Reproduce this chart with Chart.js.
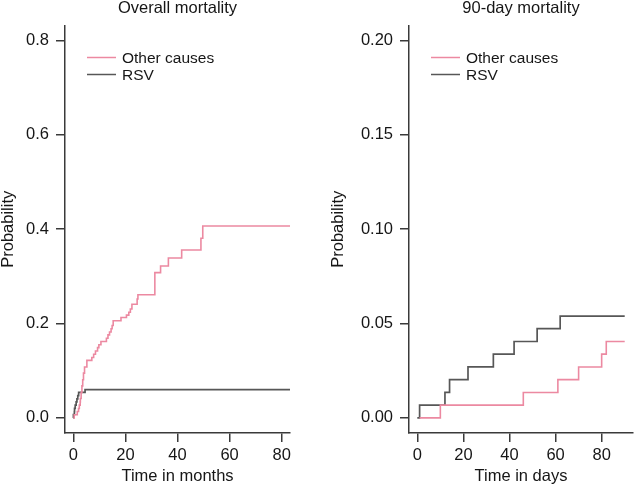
<!DOCTYPE html>
<html>
<head>
<meta charset="utf-8">
<title>Mortality</title>
<script src="https://cdn.jsdelivr.net/npm/chart.js@4.4.1/dist/chart.umd.min.js"></script>
<style>
      html, body { margin: 0; padding: 0; background: #ffffff; }
      #wrap { position: relative; width: 636px; height: 487px; }
      .panel { position: absolute; top: 0; width: 318px; height: 487px; }
</style>
</head>
<body>
<div id="wrap">
      <div class="panel" style="left:0"><canvas id="overall_chart" width="318" height="487"></canvas></div>
      <div class="panel" style="left:318px"><canvas id="day_chart" width="318" height="487"></canvas></div>
</div>
<script>
// overall mortality (months)
const overallOtherMonths = [0, 0.33, 1.51, 2.0, 2.3, 2.63, 2.7, 3.0, 3.3, 3.6, 3.9, 4.3, 5.2, 7.1, 7.8, 8.5, 9.3, 9.8, 10.6, 12.7, 13.3, 13.9, 14.5, 14.9, 15.3, 18.3, 20.4, 21.3, 21.9, 22.5, 24.5, 24.8, 31.3, 33.5, 36.5, 41.6, 49.0, 49.7, 84];
const overallOtherProb = [0, 0.0068, 0.0135, 0.020, 0.027, 0.034, 0.041, 0.054, 0.068, 0.081, 0.095, 0.108, 0.122, 0.128, 0.135, 0.142, 0.149, 0.155, 0.162, 0.169, 0.176, 0.182, 0.189, 0.196, 0.206, 0.213, 0.218, 0.224, 0.231, 0.241, 0.252, 0.261, 0.308, 0.322, 0.339, 0.356, 0.381, 0.407, 0.407];
const overallRsvMonths = [0, 0.03, 0.4, 0.46, 0.72, 1.08, 1.38, 1.71, 2.04, 4.5, 84];
const overallRsvProb = [0, 0.0068, 0.0135, 0.0203, 0.027, 0.0338, 0.0405, 0.0473, 0.054, 0.060, 0.060];

// 90-day mortality (days)
const dayOtherDays = [1, 10, 46, 61, 70, 80, 82, 90];
const dayOtherProb = [0, 0.0068, 0.0135, 0.0203, 0.027, 0.0338, 0.0405, 0.0405];
const dayRsvDays = [0, 1, 12, 14, 22, 33, 42, 52, 62, 90];
const dayRsvProb = [0, 0.0068, 0.0135, 0.0203, 0.027, 0.0338, 0.0405, 0.0473, 0.054, 0.054];

const xTicksMonths = [0, 20, 40, 60, 80];
const xTicksDays = [0, 20, 40, 60, 80];
const yTicksOverall = [0, 0.2, 0.4, 0.6, 0.8];
const yTicksDay = [0, 0.05, 0.10, 0.15, 0.20];

const seriesLabels = ['Other causes', 'RSV'];

const pink = '#ec89a1';
const grey = '#575757';
const axisColor = '#3a3a3a';
const textColor = '#161616';

Chart.defaults.font.family = '"Liberation Sans", Arial, Helvetica, sans-serif';
Chart.defaults.font.size = 16.5;
Chart.defaults.color = textColor;

function toPoints(xs, ys)
{
      return xs.map(function (x, i) { return { x: x, y: ys[i] }; });
}

// legend drawn inside the plot area, like the R figure
const insideLegend = {
      id: 'insideLegend',
      afterDatasetsDraw: function (chart)
      {
            const ctx = chart.ctx;
            const area = chart.chartArea;
            ctx.save();
            ctx.font = '15.5px "Liberation Sans", Arial, sans-serif';
            ctx.textBaseline = 'middle';
            chart.data.datasets.forEach(function (ds, i)
            {
                  const y = area.top + 32 + i * 17;
                  ctx.strokeStyle = ds.borderColor;
                  ctx.lineWidth = 1.5;
                  ctx.beginPath();
                  ctx.moveTo(area.left + 22, y);
                  ctx.lineTo(area.left + 51, y);
                  ctx.stroke();
                  ctx.fillStyle = textColor;
                  ctx.fillText(ds.label, area.left + 57, y + 1);
            });
            ctx.restore();
      }
};

function makeConfig(opts)
{
      return {
            type: 'scatter',
            data: {
                  datasets: [{
                        label: seriesLabels[0],
                        data: toPoints(opts.otherX, opts.otherY),
                        borderColor: pink,
                        backgroundColor: pink,
                        borderWidth: 1.6,
                        showLine: true,
                        stepped: 'before',
                        pointRadius: 0
                  }, {
                        label: seriesLabels[1],
                        data: toPoints(opts.rsvX, opts.rsvY),
                        borderColor: grey,
                        backgroundColor: grey,
                        borderWidth: 1.7,
                        showLine: true,
                        stepped: 'before',
                        pointRadius: 0
                  }]
            },
            options: {
                  responsive: false,
                  animation: false,
                  layout: {
                        padding: { left: 0, right: opts.rightPad, top: 0, bottom: 0 }
                  },
                  scales: {
                        x: {
                              type: 'linear',
                              min: opts.xMin,
                              max: opts.xMax,
                              afterBuildTicks: function (scale) { scale.ticks = opts.xTicks.map(function (v) { return { value: v }; }); },
                              afterFit: function (scale) { scale.height = 54; },
                              ticks: { padding: 4, color: textColor, maxRotation: 0 },
                              grid: { drawOnChartArea: false, drawTicks: true, tickLength: 9, color: axisColor, lineWidth: 1.5 },
                              border: { display: true, color: axisColor, width: 1.5 },
                              title: { display: true, text: opts.xTitle, color: textColor, padding: { top: 0, bottom: 1 } }
                        },
                        y: {
                              type: 'linear',
                              min: opts.yMin,
                              max: opts.yMax,
                              afterBuildTicks: function (scale) { scale.ticks = opts.yTicks.map(function (v) { return { value: v }; }); },
                              afterFit: function (scale) { scale.width = opts.yWidth; },
                              ticks: {
                                    padding: 7,
                                    color: textColor,
                                    callback: function (v) { return Number(v).toFixed(opts.decimals); }
                              },
                              grid: { drawOnChartArea: false, drawTicks: true, tickLength: 9, color: axisColor, lineWidth: 1.5 },
                              border: { display: true, color: axisColor, width: 1.5 },
                              title: { display: true, text: 'Probability', color: textColor, font: { lineHeight: 1 }, padding: { top: opts.yTitlePad, bottom: 0 } }
                        }
                  },
                  plugins: {
                        legend: { display: false },
                        tooltip: { enabled: false },
                        title: {
                              display: true,
                              text: opts.title,
                              fullSize: false,
                              color: textColor,
                              font: { size: 16.5, weight: 'normal', lineHeight: 1 },
                              padding: { top: 0, bottom: 9 }
                        }
                  }
            },
            plugins: [insideLegend]
      };
}

new Chart(document.getElementById('overall_chart'), makeConfig({
      title: 'Overall mortality',
      xTitle: 'Time in months',
      otherX: overallOtherMonths, otherY: overallOtherProb,
      rsvX: overallRsvMonths, rsvY: overallRsvProb,
      xMin: -3.2, xMax: 83.2, xTicks: xTicksMonths,
      yMin: -0.032, yMax: 0.832, yTicks: yTicksOverall, decimals: 1,
      yWidth: 65, yTitlePad: 0, rightPad: 28
}));

new Chart(document.getElementById('day_chart'), makeConfig({
      title: '90-day mortality',
      xTitle: 'Time in days',
      otherX: dayOtherDays, otherY: dayOtherProb,
      rsvX: dayRsvDays, rsvY: dayRsvProb,
      xMin: -3.6, xMax: 93.6, xTicks: xTicksDays,
      yMin: -0.008, yMax: 0.208, yTicks: yTicksDay, decimals: 2,
      yWidth: 91, yTitlePad: 12, rightPad: 3
}));
</script>
</body>
</html>
